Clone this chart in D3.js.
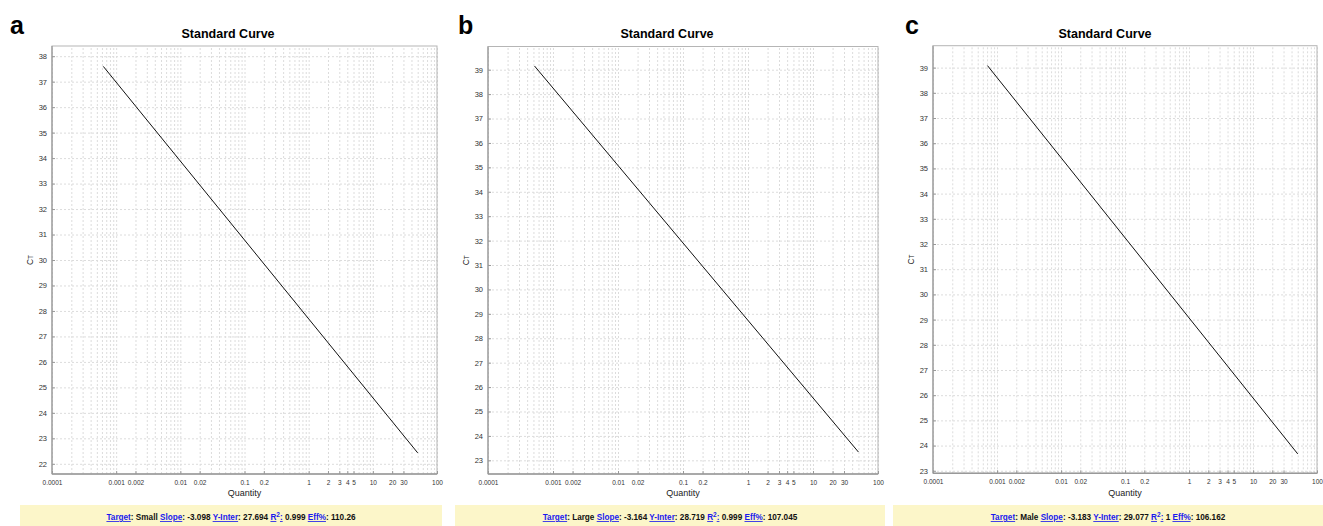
<!DOCTYPE html>
<html>
<head>
<meta charset="utf-8">
<script src="https://cdn.jsdelivr.net/npm/d3@7"></script>
<style>
  body { margin: 0; background: #fff; }
  svg { display: block; font-family: "Liberation Sans", Arial, sans-serif; }
  .grid line { stroke: #dcdcdc; stroke-dasharray: 2,2; }
  .grid path { display: none; }
  .tk text { fill: #333; }
  .tk path { display: none; }
  .tk line { stroke: #999; }
</style>
</head>
<body>
<div id="container"></div>
<script>
// values
const panelLetters = ['a', 'b', 'c'];
const targets = ['Small', 'Large', 'Male'];
const slopes = ['-3.098', '-3.164', '-3.183'];
const yInters = ['27.694', '28.719', '29.077'];
const r2s = ['0.999', '0.999', '1'];
const effs = ['110.26', '107.045', '106.162'];
const lineQty = [[0.00063, 50], [0.00052, 50], [0.00071, 50]];
const lineCt = [[37.6, 22.43], [39.15, 23.34], [39.08, 23.67]];
const yTicksA = [22, 23, 24, 25, 26, 27, 28, 29, 30, 31, 32, 33, 34, 35, 36, 37, 38];
const yTicksBC = [23, 24, 25, 26, 27, 28, 29, 30, 31, 32, 33, 34, 35, 36, 37, 38, 39];
const yTicks = [yTicksA, yTicksBC, yTicksBC];
const yDomains = [[21.6, 38.4], [22.44, 39.95], [22.9, 39.87]];
const xDomain = [0.0001, 100];
const xTickLabels = [0.0001, 0.001, 0.002, 0.01, 0.02, 0.1, 0.2, 1, 2, 3, 4, 5, 10, 20, 30, 100];
const xGridValues = [];
[0.0001, 0.001, 0.01, 0.1, 1, 10].forEach(d => {
  for (let k = 1; k < 10; k++) xGridValues.push(d * k);
});
xGridValues.push(100);

// layout of the three panels
const frames = [
  { left: 52, right: 437, top: 46, bottom: 474, bx0: 20, bx1: 442, lx: 10 },
  { left: 488, right: 878, top: 46.5, bottom: 474, bx0: 455, bx1: 885, lx: 458 },
  { left: 933, right: 1317, top: 45.7, bottom: 473.3, bx0: 893, bx1: 1323, lx: 905 }
];

const svg = d3.select('#container')
  .append('svg')
  .attr('width', 1323)
  .attr('height', 526);

const fmt = d => {
  if (d >= 1) return String(d);
  return String(+d.toFixed(4));
};

frames.forEach((f, i) => {
  const w = f.right - f.left;
  const h = f.bottom - f.top;
  const xScale = d3.scaleLog().domain(xDomain).range([f.left, f.right]);
  const yScale = d3.scaleLinear().domain(yDomains[i]).range([f.bottom, f.top]);

  // grid
  svg.append('g')
    .attr('class', 'grid')
    .attr('transform', `translate(0, ${f.bottom})`)
    .call(d3.axisBottom(xScale).tickValues(xGridValues).tickSize(-h).tickFormat(''));
  svg.append('g')
    .attr('class', 'grid')
    .attr('transform', `translate(${f.left}, 0)`)
    .call(d3.axisLeft(yScale).tickValues(yTicks[i]).tickSize(-w).tickFormat(''));

  // frame
  svg.append('rect')
    .attr('x', f.left).attr('y', f.top)
    .attr('width', w).attr('height', h)
    .attr('fill', 'none')
    .attr('stroke', '#b5b5b5');
  svg.append('line')
    .attr('x1', f.left).attr('x2', f.right)
    .attr('y1', f.bottom).attr('y2', f.bottom)
    .attr('stroke', '#999').attr('stroke-width', 1.5);
  svg.append('line')
    .attr('x1', f.left).attr('x2', f.left)
    .attr('y1', f.top).attr('y2', f.bottom)
    .attr('stroke', '#999').attr('stroke-width', 1.2);

  // axes tick labels
  svg.append('g')
    .attr('class', 'tk')
    .attr('transform', `translate(0, ${f.bottom})`)
    .call(d3.axisBottom(xScale).tickValues(xTickLabels).tickSize(-3).tickPadding(6).tickFormat(fmt))
    .selectAll('text')
    .style('font-size', '6.5px');
  svg.append('g')
    .attr('class', 'tk')
    .attr('transform', `translate(${f.left}, 0)`)
    .call(d3.axisLeft(yScale).tickValues(yTicks[i]).tickSize(-3).tickPadding(5))
    .selectAll('text')
    .style('font-size', '7.5px');

  // standard curve
  const pts = lineQty[i].map((q, k) => [q, lineCt[i][k]]);
  svg.append('path')
    .datum(pts)
    .attr('fill', 'none')
    .attr('stroke', '#111')
    .attr('stroke-width', 1)
    .attr('d', d3.line().x(d => xScale(d[0])).y(d => yScale(d[1])));

  // labels
  svg.append('text')
    .attr('x', f.lx).attr('y', 34)
    .style('font-size', '25px').style('font-weight', 'bold')
    .text(panelLetters[i]);
  svg.append('text')
    .attr('x', (f.bx0 + f.bx1) / 2 - 3).attr('y', 38)
    .attr('text-anchor', 'middle')
    .style('font-size', '12.5px').style('font-weight', 'bold')
    .text('Standard Curve');
  svg.append('text')
    .attr('x', (f.left + f.right) / 2).attr('y', 496)
    .attr('text-anchor', 'middle')
    .style('font-size', '9px').attr('fill', '#222')
    .text('Quantity');
  const ct = svg.append('text')
    .attr('transform', `translate(${f.left - 19}, ${(f.top + f.bottom) / 2}) rotate(-90)`)
    .attr('text-anchor', 'middle')
    .style('font-size', '8.5px').attr('fill', '#222');
  ct.append('tspan').text('C');
  ct.append('tspan').style('font-size', '6.5px').text('T');

  // footer band
  svg.append('rect')
    .attr('x', f.bx0).attr('y', 505)
    .attr('width', f.bx1 - f.bx0).attr('height', 21)
    .attr('fill', '#fcf6c9');
  const ft = svg.append('text')
    .attr('x', (f.bx0 + f.bx1) / 2).attr('y', 520)
    .attr('text-anchor', 'middle')
    .style('font-size', '8.2px').style('font-weight', 'bold')
    .attr('fill', '#111');
  const link = t => ft.append('tspan').attr('fill', '#1a1aee').attr('text-decoration', 'underline').text(t);
  const plain = t => ft.append('tspan').text(t);
  link('Target'); plain(': ' + targets[i] + ' ');
  link('Slope'); plain(': ' + slopes[i] + ' ');
  link('Y-Inter'); plain(': ' + yInters[i] + ' ');
  link('R');
  ft.append('tspan').attr('fill', '#1a1aee').attr('dy', -3).style('font-size', '6.5px').text('2');
  ft.append('tspan').attr('fill', '#1a1aee').attr('dy', 3).attr('text-decoration', 'underline').text(':');
  plain(' ' + r2s[i] + ' ');
  link('Eff%'); plain(': ' + effs[i]);
});
</script>
</body>
</html>
